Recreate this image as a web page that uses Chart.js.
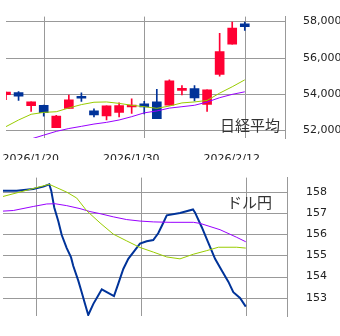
<!DOCTYPE html>
<html>
<head>
<meta charset="utf-8">
<script src="https://cdn.jsdelivr.net/npm/chart.js@4.4.1/dist/chart.umd.min.js"></script>
<style>
  html, body { margin: 0; padding: 0; background: #fff; }
  canvas { display: block; }
</style>
</head>
<body>
<canvas id="nikkei" width="340" height="160"></canvas>
<canvas id="usdjpy" width="340" height="176"></canvas>
<script>
// trading days, index = position on the x axis
const days = ['1/15','1/16','1/19','1/20','1/21','1/22','1/23','1/26','1/27','1/28',
              '1/29','1/30','2/2','2/3','2/4','2/5','2/6','2/9','2/10','2/12'];
const tickDays = [3, 11, 19];
const tickLabels = ['2026/1/20', '2026/1/30', '2026/2/12'];

const openPx  = [53967,54087,53357,53383,52157,53216,53879,53080,52799,52992,
                 53289,53461,53566,53393,54207,54296,53425,55078,56748,57859];
const highPx  = [54110,54139,53570,53390,52835,53946,54061,53185,53357,53513,
                 53738,53602,54259,54781,54468,54468,54228,57337,57963,57963];
const lowPx   = [53686,53654,53044,52783,52157,53216,53592,52747,52574,52747,
                 52939,52903,52642,53393,53946,53618,53044,54990,56748,57494];
const closePx = [54103,53879,53566,52976,52783,53686,53774,52851,53357,53373,
                 53393,53289,52642,54729,54312,53790,54228,56330,57635,57703];
const maShort = [52209,52574,52887,52992,53028,53235,53420,53550,53566,53487,
                 53383,53305,53216,53341,53513,53566,53650,54051,54401,54782];
const maLong  = [51110,51320,51530,51740,51948,52104,52225,52350,52444,52574,
                 52757,52966,53070,53227,53305,53383,53560,53800,53983,54124];
const nikkeiTicks = [52000, 54000, 56000, 58000];

// USD/JPY, x in the same day units
const fxX = [0.46,1.53,2.79,3.56,4.01,4.16,4.39,4.70,4.96,5.34,5.67,5.84,6.22,6.48,6.73,6.98,
             7.37,7.75,8.01,8.39,8.94,9.27,9.65,10.03,10.54,10.92,11.43,11.93,12.31,12.69,12.96,
             13.97,14.96,15.11,15.62,16.13,16.64,17.15,17.65,18.03,18.54,18.98];
const fxRate = [158.06,158.06,158.15,158.26,158.37,158.07,157.27,156.62,155.97,155.35,154.91,154.50,
                153.81,153.26,152.71,152.18,152.71,153.12,153.40,153.27,153.08,153.67,154.36,154.84,
                155.25,155.56,155.67,155.73,156.05,156.54,156.90,157.01,157.18,157.04,156.35,155.60,
                154.84,154.29,153.76,153.26,152.99,152.58];
const fxShortX = [0.46,4.01,5.34,6.10,6.86,7.88,8.89,9.91,10.92,11.94,12.96,13.97,14.99,16.01,16.89,18.29,18.98];
const fxShort  = [157.79,158.37,158.00,157.72,157.12,156.54,156.01,155.69,155.38,155.16,154.93,154.84,
                  155.06,155.23,155.39,155.39,155.35];
const fxLongX = [0.46,1.27,2.79,3.82,4.45,5.34,6.35,7.11,7.88,8.89,9.91,10.92,11.94,13.21,14.99,15.50,17.02,18.29,18.98];
const fxLong  = [157.10,157.13,157.32,157.44,157.45,157.36,157.22,157.08,156.98,156.83,156.70,156.63,
                 156.59,156.57,156.57,156.52,156.22,155.86,155.65];
const fxTicks = [153, 154, 155, 156, 157, 158];

const RED = '#ff0033', BLUE = '#003399', GREEN = '#99cc00', PURPLE = '#9900ff', GRID = '#999999';
const tickFont = { family: '"DejaVu Sans", sans-serif', size: 11 };

// the built-in grid would not show up here, so stroke it from the scales' own ticks
const gridLines = {
  id: 'gridLines',
  beforeDatasetsDraw(chart) {
    const { ctx, chartArea: a, scales } = chart;
    ctx.save();
    ctx.strokeStyle = GRID;
    ctx.lineWidth = 1;
    ctx.beginPath();
    scales.x.ticks.forEach(t => {
      const px = Math.round(scales.x.getPixelForValue(t.value)) + 0.5;
      ctx.moveTo(px, a.top);
      ctx.lineTo(px, a.bottom);
    });
    scales.y.ticks.forEach(t => {
      const py = Math.round(scales.y.getPixelForValue(t.value)) + 0.5;
      ctx.moveTo(a.left, py);
      ctx.lineTo(a.right, py);
    });
    ctx.stroke();
    ctx.restore();
  }
};

const cornerLabel = {
  id: 'cornerLabel',
  afterDraw(chart, args, opts) {
    const { ctx, chartArea } = chart;
    ctx.save();
    ctx.font = '15px "Noto Sans CJK JP", sans-serif';
    ctx.fillStyle = '#333';
    ctx.textAlign = 'right';
    ctx.textBaseline = 'middle';
    ctx.fillText(opts.text, chartArea.right + opts.dx, chartArea.top + opts.dy);
    ctx.restore();
  }
};

const colors = closePx.map((c, i) => c >= openPx[i] ? RED : BLUE);

new Chart(document.getElementById('nikkei'), {
  type: 'bar',
  plugins: [gridLines, cornerLabel],
  data: {
    datasets: [
      {
        type: 'line', order: 1, clip: 0,
        data: maShort.map((v, i) => ({ x: i, y: v })),
        borderColor: GREEN, borderWidth: 1, pointRadius: 0, tension: 0
      },
      {
        type: 'line', order: 1, clip: 0,
        data: maLong.map((v, i) => ({ x: i, y: v })),
        borderColor: PURPLE, borderWidth: 1, pointRadius: 0, tension: 0
      },
      {
        order: 2, clip: 0, grouped: false,
        data: days.map((d, i) => ({ x: i, y: [lowPx[i], highPx[i]] })),
        backgroundColor: colors, barThickness: 1
      },
      {
        order: 2, clip: 0, grouped: false,
        data: days.map((d, i) => ({ x: i, y: [Math.min(openPx[i], closePx[i]), Math.max(openPx[i], closePx[i])] })),
        backgroundColor: colors, barThickness: 9
      }
    ]
  },
  options: {
    responsive: false,
    animation: false,
    events: [],
    layout: { padding: { left: 6, top: 10, right: 0, bottom: 0 } },
    plugins: {
      legend: { display: false },
      tooltip: { enabled: false },
      cornerLabel: { text: '日経平均', dx: -5, dy: 109 }
    },
    scales: {
      x: {
        type: 'linear', min: 0, max: 22.2, offset: false,
        grid: { display: false },
        border: { display: false },
        afterBuildTicks: s => { s.ticks = tickDays.map(v => ({ value: v })); },
        afterFit: s => { s.height = 22; },
        ticks: {
          font: tickFont, color: '#222', padding: 7, labelOffset: -13,
          maxRotation: 0, autoSkip: false,
          callback: (v, i) => tickLabels[i]
        }
      },
      y: {
        position: 'right', min: 51583, max: 58261,
        grid: { display: false },
        border: { display: true, color: GRID },
        afterBuildTicks: s => { s.ticks = nikkeiTicks.map(v => ({ value: v })); },
        afterFit: s => { s.width = 55; },
        ticks: {
          font: tickFont, color: '#222', padding: 10,
          callback: v => v.toLocaleString('en-US')
        }
      }
    }
  }
});

new Chart(document.getElementById('usdjpy'), {
  type: 'line',
  plugins: [gridLines, cornerLabel],
  data: {
    datasets: [
      {
        clip: 0,
        data: fxShortX.map((x, i) => ({ x, y: fxShort[i] })),
        borderColor: GREEN, borderWidth: 1, pointRadius: 0, tension: 0
      },
      {
        clip: 0,
        data: fxLongX.map((x, i) => ({ x, y: fxLong[i] })),
        borderColor: PURPLE, borderWidth: 1, pointRadius: 0, tension: 0
      },
      {
        clip: 0,
        data: fxX.map((x, i) => ({ x, y: fxRate[i] })),
        borderColor: BLUE, borderWidth: 2, pointRadius: 0, tension: 0
      }
    ]
  },
  options: {
    responsive: false,
    animation: false,
    events: [],
    layout: { padding: { left: 3, top: 5, right: 0, bottom: 12 } },
    plugins: {
      legend: { display: false },
      tooltip: { enabled: false },
      cornerLabel: { text: 'ドル円', dx: -15, dy: 25 }
    },
    scales: {
      x: {
        type: 'linear', min: 0.486, max: 22.12,
        grid: { display: false },
        border: { display: false },
        afterBuildTicks: s => { s.ticks = tickDays.map(v => ({ value: v })); },
        ticks: { display: false }
      },
      y: {
        position: 'right', min: 152.134, max: 158.688,
        grid: { display: false },
        border: { display: true, color: GRID },
        afterBuildTicks: s => { s.ticks = fxTicks.map(v => ({ value: v })); },
        afterFit: s => { s.width = 53; },
        ticks: { font: tickFont, color: '#222', padding: 11 }
      }
    }
  }
});
</script>
</body>
</html>
